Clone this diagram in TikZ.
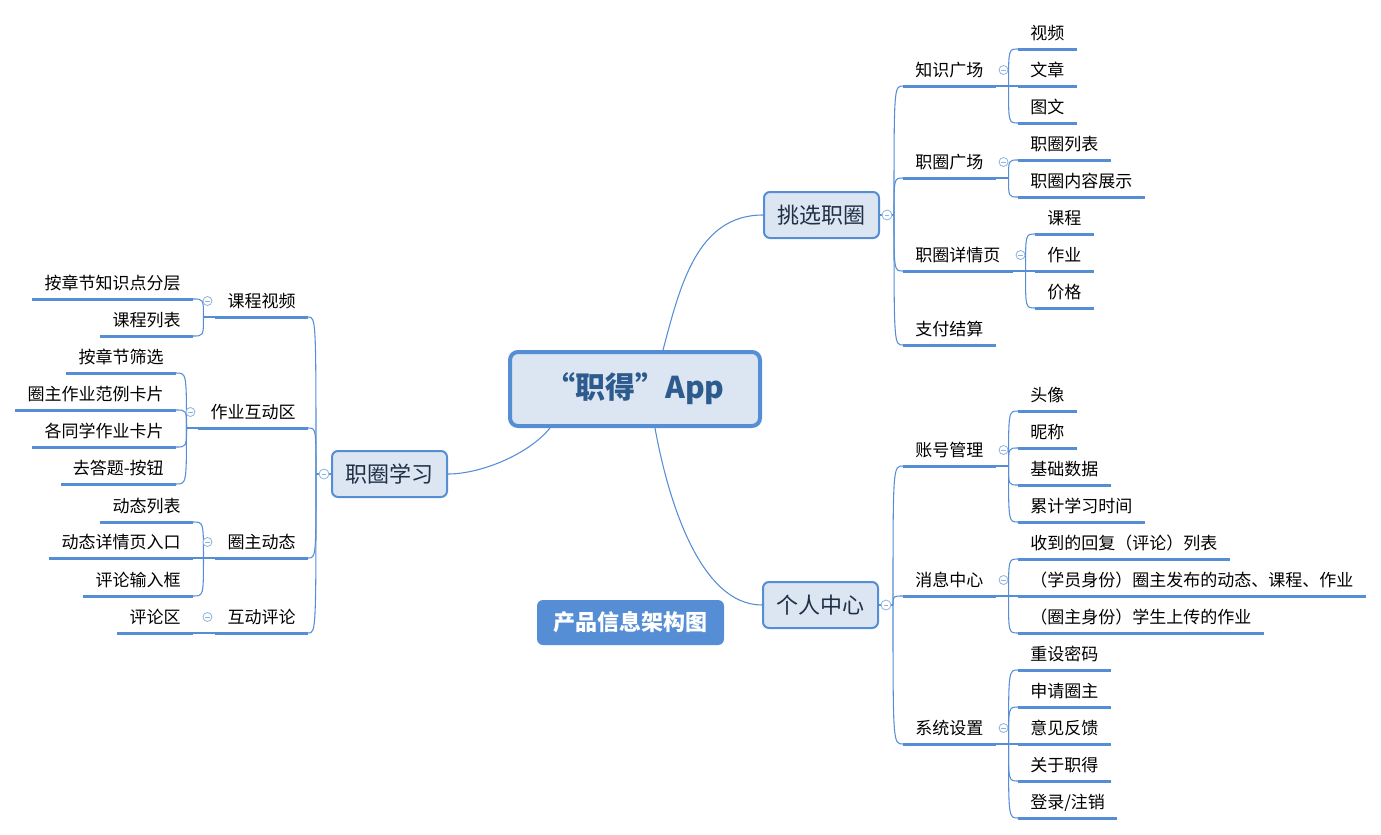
\documentclass[tikz,border=0pt]{standalone}
\usepackage{fontspec}
\newfontfamily\cjk{Noto Sans CJK SC}
\definecolor{lineblue}{HTML}{558ED5}
\definecolor{foldblue}{HTML}{8DB3E2}
\definecolor{boxfill}{HTML}{DCE6F2}
\definecolor{roottext}{HTML}{2E5B8E}
\definecolor{maintext}{HTML}{1F2F45}
\newcommand{\brk}[2]{\draw[conn] (#1) .. controls (#1 |- #2) .. (#2);}
\begin{document}
\begin{tikzpicture}[
    x=0.75pt, y=-0.75pt,
    font=\cjk,
    conn/.style={draw=lineblue, line width=0.8pt},
    uline/.style={draw=lineblue, line width=2.25pt},
    topic/.style={font=\cjk\fontsize{12.75}{15}\selectfont, inner xsep=9pt, inner ysep=0pt, text height=10.5pt, text depth=7.1pt},
    rtopic/.style={topic, anchor=south west},
    ltopic/.style={topic, anchor=south east},
    main/.style={rectangle, rounded corners=4.5pt, draw=lineblue, line width=1.5pt, fill=boxfill, minimum width=86.25pt, minimum height=34.5pt, inner sep=0pt, font=\cjk\fontsize{16.5}{19}\selectfont, text=maintext},
    root/.style={rectangle, rounded corners=6pt, draw=lineblue, line width=3pt, fill=boxfill, minimum width=187.5pt, minimum height=55.5pt, inner sep=0pt, font=\cjk\bfseries\fontsize{22.5}{26}\selectfont, text=roottext},
    tag/.style={rectangle, rounded corners=4.5pt, fill=lineblue, minimum width=140.25pt, minimum height=33.75pt, inner sep=0pt, font=\cjk\bfseries\fontsize{16.5}{19}\selectfont, text=white},
    fold/.style={circle, draw=foldblue, fill=white, line width=0.6pt, minimum size=6.75pt, inner sep=0pt,
        path picture={\draw[foldblue, line width=0.6pt] ([xshift=-1.8pt]path picture bounding box.center) -- ([xshift=1.8pt]path picture bounding box.center);}},
    bigfold/.style={fold, minimum size=7.5pt}
]
    \useasboundingbox (0,0) rectangle (1381,835);

    \node[root] (r0) at (635,389) {“职得”App};
    \node[tag] (tg) at (630.5,622.5) {产品信息架构图};

    \node[main] (t0) at (821.5,215) {挑选职圈};
    \node[main] (g0) at (820.5,605) {个人中心};
    \node[main] (x0) at (389.5,474) {职圈学习};

    \draw[conn] ([xshift=21pt]r0.north) .. controls (680,286) and (697,215) .. (t0.west);
    \draw[conn] ([xshift=15pt]r0.south) .. controls (668,500) and (700,605) .. (g0.west);
    \draw[conn] ([xshift=-63.75pt]r0.south) .. controls (528,455) and (480,474) .. (x0.east);

    % 挑选职圈
    \node[rtopic] (zs) at (903,86) {知识广场};
    \node[rtopic] (zg) at (903,178) {职圈广场};
    \node[rtopic] (zx) at (903,271) {职圈详情页};
    \node[rtopic] (zf) at (903,345) {支付结算};
    \node[rtopic] (zs1) at (1018,49) {视频};
    \node[rtopic] (zs2) at (1018,86) {文章};
    \node[rtopic] (zs3) at (1018,123) {图文};
    \node[rtopic] (zg1) at (1018,160) {职圈列表};
    \node[rtopic] (zg2) at (1018,197) {职圈内容展示};
    \node[rtopic] (zx1) at (1035,234) {课程};
    \node[rtopic] (zx2) at (1035,271) {作业};
    \node[rtopic] (zx3) at (1035,308) {价格};

    % 个人中心
    \node[rtopic] (gz) at (903,466) {账号管理};
    \node[rtopic] (gx) at (903,596) {消息中心};
    \node[rtopic] (gs) at (903,744) {系统设置};
    \node[rtopic] (gz1) at (1018,411) {头像};
    \node[rtopic] (gz2) at (1018,448) {昵称};
    \node[rtopic] (gz3) at (1018,485) {基础数据};
    \node[rtopic] (gz4) at (1018,522) {累计学习时间};
    \node[rtopic] (gx1) at (1018,559) {收到的回复（评论）列表};
    \node[rtopic] (gx2) at (1018,596) {（学员身份）圈主发布的动态、课程、作业};
    \node[rtopic] (gx3) at (1018,633) {（圈主身份）学生上传的作业};
    \node[rtopic] (gs1) at (1018,670) {重设密码};
    \node[rtopic] (gs2) at (1018,707) {申请圈主};
    \node[rtopic] (gs3) at (1018,744) {意见反馈};
    \node[rtopic] (gs4) at (1018,781) {关于职得};
    \node[rtopic] (gs5) at (1018,818) {登录/注销};

    % 职圈学习
    \node[ltopic] (xk) at (308,317) {课程视频};
    \node[ltopic] (xz) at (308,428) {作业互动区};
    \node[ltopic] (xq) at (308,558) {圈主动态};
    \node[ltopic] (xh) at (308,633) {互动评论};
    \node[ltopic] (xk1) at (193,299) {按章节知识点分层};
    \node[ltopic] (xk2) at (193,336) {课程列表};
    \node[ltopic] (xz1) at (176,373) {按章节筛选};
    \node[ltopic] (xz2) at (176,410) {圈主作业范例卡片};
    \node[ltopic] (xz3) at (176,447) {各同学作业卡片};
    \node[ltopic] (xz4) at (176,484) {去答题-按钮};
    \node[ltopic] (xq1) at (193,522) {动态列表};
    \node[ltopic] (xq2) at (193,558) {动态详情页入口};
    \node[ltopic] (xq3) at (193,596) {评论输入框};
    \node[ltopic] (xh1) at (193,633) {评论区};

    \coordinate (t0k) at ([xshift=10.5pt]t0.east);
    \coordinate (g0k) at ([xshift=10.5pt]g0.east);
    \coordinate (x0k) at ([xshift=-11.25pt]x0.west);
    \coordinate (zsk) at ([xshift=9.75pt]zs.south east);
    \coordinate (zgk) at ([xshift=9.75pt]zg.south east);
    \coordinate (zxk) at ([xshift=9.75pt]zx.south east);
    \coordinate (gzk) at ([xshift=9.75pt]gz.south east);
    \coordinate (gxk) at ([xshift=9.75pt]gx.south east);
    \coordinate (gsk) at ([xshift=9.75pt]gs.south east);
    \coordinate (xkk) at ([xshift=-9pt]xk.south west);
    \coordinate (xzk) at ([xshift=-9pt]xz.south west);
    \coordinate (xqk) at ([xshift=-9pt]xq.south west);

    \draw[conn] (t0.east) -- (t0k);
    \draw[conn] (g0.east) -- (g0k);
    \draw[conn] (x0.west) -- (x0k);
    \foreach \n in {zs,zg,zx,zf} {\brk{t0k}{\n.south west}}
    \foreach \n in {gz,gx,gs} {\brk{g0k}{\n.south west}}
    \foreach \n in {xk,xz,xq,xh} {\brk{x0k}{\n.south east}}

    \draw[conn] (zs.south east) -- (zsk);
    \draw[conn] (zg.south east) -- (zgk);
    \draw[conn] (zx.south east) -- (zxk);
    \draw[conn] (gz.south east) -- (gzk);
    \draw[conn] (gx.south east) -- (gxk);
    \draw[conn] (gs.south east) -- (gsk);
    \draw[conn] (xk.south west) -- (xkk);
    \draw[conn] (xz.south west) -- (xzk);
    \draw[conn] (xq.south west) -- (xqk);
    \draw[conn] (xh.south west) -- (xh1.south east);
    \foreach \n in {zs1,zs2,zs3} {\brk{zsk}{\n.south west}}
    \foreach \n in {zg1,zg2} {\brk{zgk}{\n.south west}}
    \foreach \n in {zx1,zx2,zx3} {\brk{zxk}{\n.south west}}
    \foreach \n in {gz1,gz2,gz3,gz4} {\brk{gzk}{\n.south west}}
    \foreach \n in {gx1,gx2,gx3} {\brk{gxk}{\n.south west}}
    \foreach \n in {gs1,gs2,gs3,gs4,gs5} {\brk{gsk}{\n.south west}}
    \foreach \n in {xk1,xk2} {\brk{xkk}{\n.south east}}
    \foreach \n in {xz1,xz2,xz3,xz4} {\brk{xzk}{\n.south east}}
    \foreach \n in {xq1,xq2,xq3} {\brk{xqk}{\n.south east}}

    \foreach \n in {zs,zg,zx,zf,zs1,zs2,zs3,zg1,zg2,zx1,zx2,zx3,
        gz,gx,gs,gz1,gz2,gz3,gz4,gx1,gx2,gx3,gs1,gs2,gs3,gs4,gs5,
        xk,xz,xq,xh,xk1,xk2,xz1,xz2,xz3,xz4,xq1,xq2,xq3,xh1}
        {\draw[uline] (\n.south west) -- (\n.south east);}

    \node[bigfold] (t0f) at ([xshift=5.25pt]t0.east) {};
    \node[bigfold] (g0f) at ([xshift=5.25pt]g0.east) {};
    \node[bigfold] (x0f) at ([xshift=-5.25pt]x0.west) {};
    \foreach \n in {zs,zg,zx,gz,gx,gs}
        {\node[fold] (\n f) at ([xshift=6pt,yshift=12pt]\n.south east) {};}
    \foreach \n in {xk,xz,xq,xh}
        {\node[fold] (\n f) at ([xshift=-6pt,yshift=12pt]\n.south west) {};}
\end{tikzpicture}
\end{document}
